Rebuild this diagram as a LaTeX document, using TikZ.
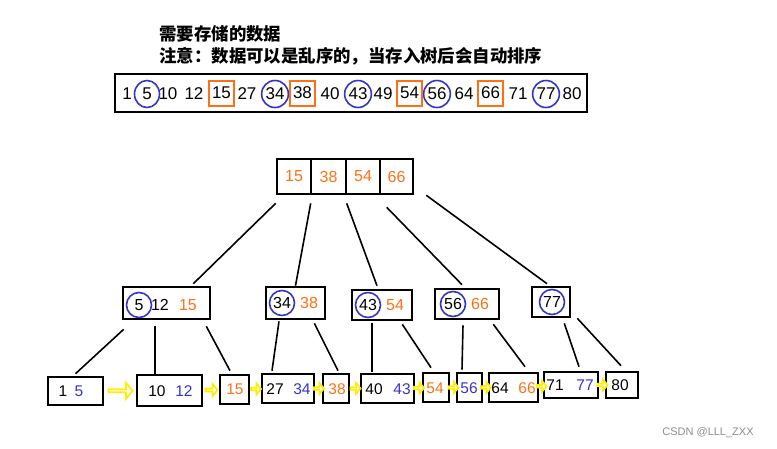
\documentclass[tikz,border=0pt]{standalone}
\usepackage{fontspec}
\setmainfont{Liberation Sans}
\newfontfamily\cjk{Noto Sans CJK SC}
\usetikzlibrary{shapes.geometric,shapes.arrows,calc}
\definecolor{keyorange}{RGB}{255,112,20}
\definecolor{keyblue}{RGB}{52,52,200}
\definecolor{linkyellow}{RGB}{255,238,0}

\begin{document}
\begin{tikzpicture}[x=1pt,y=-1pt,
  box/.style={draw, line width=2.6pt, inner sep=0pt},
  keyring/.style={ellipse, draw=keyblue, line width=1.6pt, inner sep=0pt, minimum width=25pt, minimum height=27pt},
  treering/.style={circle, draw=keyblue, line width=1.6pt, inner sep=0pt, minimum size=25pt},
  keybox/.style={draw=keyorange, line width=2pt, inner sep=0pt, minimum size=25pt},
  link/.style={line width=1.6pt},
  fatarrow/.style={single arrow, draw=linkyellow, fill=white, line width=1.8pt, inner sep=0pt,
                   minimum width=16pt, single arrow head extend=4pt, single arrow tip angle=100},
  num/.style={font=\fontsize{16}{18}\selectfont, inner sep=0pt}]
\useasboundingbox (0,0) rectangle (777,448);

  % title
  \node[anchor=west, font=\cjk\bfseries\fontsize{17.4}{20}\selectfont] (title) at (156,34) {需要存储的数据};
  \node[anchor=west, font=\cjk\bfseries\fontsize{17.4}{20}\selectfont] (note) at (156,56)
        {注意：数据可以是乱序的，当存入树后会自动排序};

  % data to store
  \node[box, minimum width=472pt, minimum height=38pt] (datarow) at (351,93) {};
  \begin{scope}[every node/.style={num, font=\fontsize{17}{19}\selectfont}]
  \foreach \v/\x in {1/127,10/168,12/194,27/247,40/330,49/383,64/464,71/518,80/572}
    \node (d\v) at (\x,94) {\v};
  \foreach \v/\x in {5/147,34/275,43/358,56/437,77/546}
    \node[keyring] (d\v) at (\x,94) {\v};
  \foreach \v/\x in {15/221.5,38/302.5,54/409.5,66/490.5}
    \node[keybox] (d\v) at (\x,93) {\v};
  \end{scope}

  % root
  \node[box, minimum width=34pt, minimum height=35pt, text=keyorange, num] (r1) at (294,176.5) {15};
  \node[box, minimum width=35pt, minimum height=35pt, text=keyorange, num] (r2) at (328.5,176.5) {38};
  \node[box, minimum width=34pt, minimum height=35pt, text=keyorange, num] (r3) at (363,176.5) {54};
  \node[box, minimum width=33pt, minimum height=35pt, text=keyorange, num] (r4) at (396.5,176.5) {66};

  % second level
  \node[box, minimum width=87pt, minimum height=32pt] (a) at (166.5,303) {};
  \node[box, minimum width=59pt, minimum height=32pt] (b) at (295.5,303) {};
  \node[box, minimum width=60pt, minimum height=30pt] (c) at (382,305) {};
  \node[box, minimum width=64pt, minimum height=30pt] (d) at (467,304) {};
  \node[box, minimum width=38pt, minimum height=30pt] (e) at (551,302) {};
  \node[treering, num] (a5) at (139,305) {5};
  \node[num] (a12) at (160,305) {12};
  \node[num, text=keyorange] (a15) at (188,305) {15};
  \node[treering, num] (b34) at (282,303) {34};
  \node[num, text=keyorange] (b38) at (309,303) {38};
  \node[treering, num] (c43) at (368,305) {43};
  \node[num, text=keyorange] (c54) at (395,305) {54};
  \node[treering, num] (d56) at (453,304) {56};
  \node[num, text=keyorange] (d66) at (480,304) {66};
  \node[treering, num] (e77) at (552,302) {77};

  % leaves
  \begin{scope}[every node/.style={num, font=\fontsize{15.5}{18}\selectfont}]
  \node[box, minimum width=55pt, minimum height=28pt] (l1) at (75.5,391) {};
  \node[box, minimum width=65pt, minimum height=31pt] (l2) at (169.5,390.5) {};
  \node[box, minimum width=29pt, minimum height=29pt] (l3) at (234.5,389.5) {};
  \node[box, minimum width=52pt, minimum height=29pt] (l4) at (288,388.5) {};
  \node[box, minimum width=26pt, minimum height=29pt] (l5) at (336,388.5) {};
  \node[box, minimum width=53pt, minimum height=29pt] (l6) at (387.5,388.5) {};
  \node[box, minimum width=26pt, minimum height=29pt] (l7) at (436,387.5) {};
  \node[box, minimum width=25pt, minimum height=29pt] (l8) at (469.5,387.5) {};
  \node[box, minimum width=49pt, minimum height=29pt] (l9) at (513.5,387.5) {};
  \node[box, minimum width=54pt, minimum height=26pt] (l10) at (571,385) {};
  \node[box, minimum width=32pt, minimum height=26pt] (l11) at (622,385) {};
  \node (k1) at (63,391) {1};
  \node[text=keyblue] (k5) at (79,391) {5};
  \node (k10) at (157,391) {10};
  \node[text=keyblue] (k12) at (184,391) {12};
  \node[text=keyorange] (k15) at (235,389.5) {15};
  \node (k27) at (275,389) {27};
  \node[text=keyblue] (k34) at (302,389) {34};
  \node[text=keyorange] (k38) at (337,389) {38};
  \node (k40) at (374,389) {40};
  \node[text=keyblue] (k43) at (402,389) {43};
  \node[text=keyorange] (k54) at (435,388) {54};
  \node[text=keyblue] (k56) at (469,388) {56};
  \node (k64) at (500,388) {64};
  \node[text=keyorange] (k66) at (527,388) {66};
  \node (k71) at (555,385) {71};
  \node[text=keyblue] (k77) at (585,385) {77};
  \node (k80) at (620,385) {80};
  \end{scope}

  % root to second level
  \draw[link] ($(r1.south west)+(0,8)$) -- ($(a.north east)+(-18,-2)$);
  \draw[link] ($(r2.south west)+(1,8)$) -- (b.north);
  \draw[link] ($(r3.south west)+(2,8)$) -- ($(c.north)+(-5,-3)$);
  \draw[link] ($(r4.south west)+(8,12)$) -- ($(d.north)+(-5,-3)$);
  \draw[link] ($(r4.south east)+(12,0)$) -- ($(e.north)+(-4,-2)$);

  % second level to leaves
  \draw[link] ($(a.south west)+(2,9)$) -- ($(l1.north)+(0,-2)$);
  \draw[link] ($(a.south)+(-11.5,6)$) -- ($(l2.north)+(-14.5,0)$);
  \draw[link] ($(a.south east)+(-5,6)$) -- ($(l3.north)+(-4.5,-3)$);
  \draw[link] ($(b.south)+(-16.5,1)$) -- ($(l4.north)+(-16,-2)$);
  \draw[link] ($(b.south east)+(-12,3)$) -- ($(l5.north)+(2,-2)$);
  \draw[link] ($(c.south)+(-10,2)$) -- ($(l6.north)+(-15.5,-1)$);
  \draw[link] ($(c.south east)+(-11,3)$) -- ($(l7.north)+(-5,-4)$);
  \draw[link] ($(d.south)+(-4,5)$) -- ($(l8.north)+(-7.5,-2)$);
  \draw[link] ($(d.south east)+(-7,4)$) -- ($(l9.north)+(11.5,-5)$);
  \draw[link] ($(e.south east)+(-7,5)$) -- ($(l10.north)+(8,-4)$);
  \draw[link] ($(e.south east)+(6,0)$) -- ($(l11.north)+(-1,-5)$);

  % leaf chain
  \path (l1.east) -- (l2.west) node[midway, fatarrow, minimum height=24pt] {};
  \path (l2.east) -- (l3.west) node[midway, fatarrow, minimum height=12pt, minimum width=12pt, single arrow head extend=3pt] {};
  \foreach \p/\q in {l3/l4,l4/l5,l5/l6,l6/l7,l7/l8,l8/l9,l9/l10,l10/l11}
    \path (\p.east) -- (\q.west) node[midway, fatarrow, minimum height=10pt, minimum width=11pt, single arrow head extend=3pt] {};

  % watermark
  \node[font=\fontsize{11}{13}\selectfont, text=black!45] (mark) at (708,433) {CSDN @LLL\_ZXX};
\end{tikzpicture}
\end{document}
